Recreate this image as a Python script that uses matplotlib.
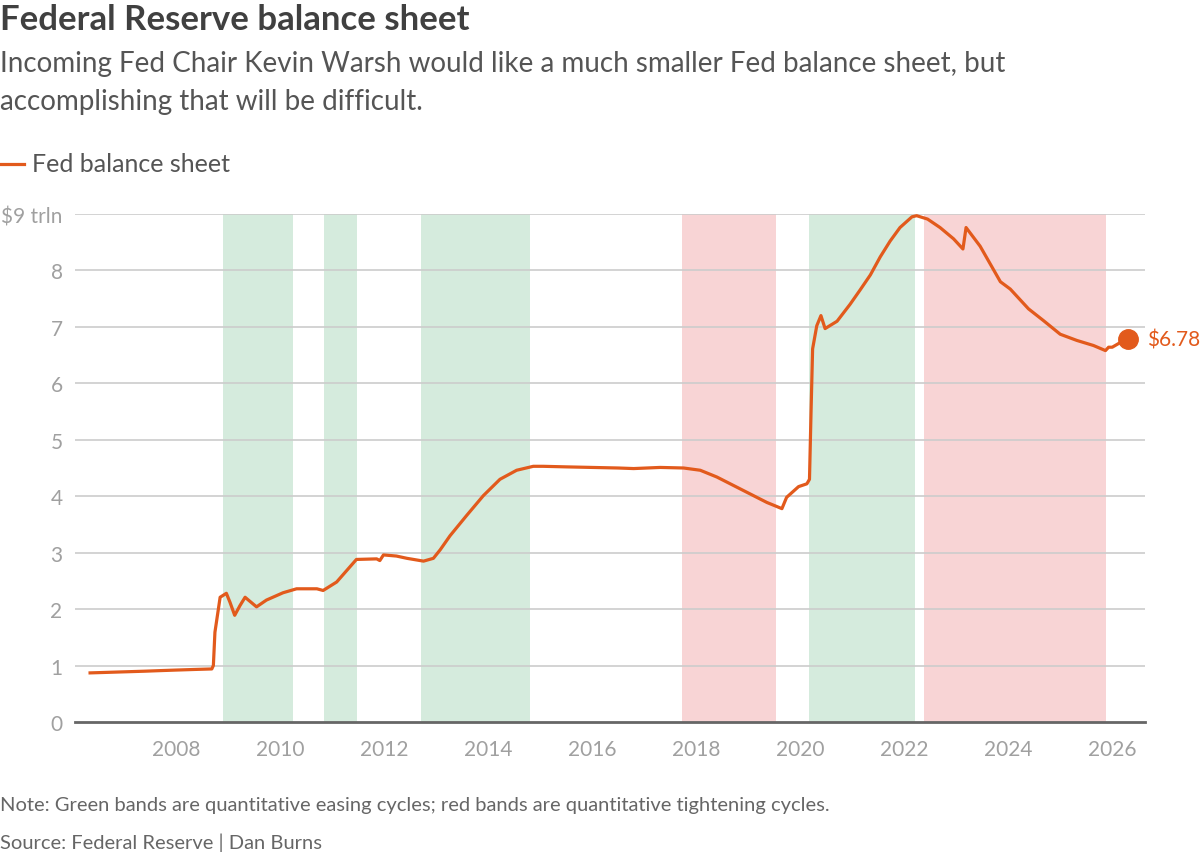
import matplotlib
matplotlib.use("Agg")
import matplotlib.pyplot as plt

plt.rcParams['font.family'] = ['Lato', 'DejaVu Sans']

# Fed balance sheet, trillions of dollars (decimal year, value)
years = [2006.35, 2006.7, 2007.05, 2007.4, 2007.69, 2008.0, 2008.33, 2008.69, 2008.72,
         2008.75, 2008.85, 2008.97, 2009.04, 2009.13, 2009.23, 2009.33, 2009.42, 2009.55,
         2009.74, 2010.06, 2010.32, 2010.71, 2010.83, 2011.09, 2011.47, 2011.86, 2011.92,
         2011.99, 2012.24, 2012.44, 2012.76, 2012.95, 2013.08, 2013.27, 2013.59, 2013.91,
         2014.23, 2014.55, 2014.87, 2015.06, 2015.5, 2016.0, 2016.5, 2016.8, 2017.31,
         2017.76, 2018.08, 2018.40, 2018.72, 2019.04, 2019.36, 2019.65, 2019.74, 2019.97,
         2020.13, 2020.18, 2020.21, 2020.24, 2020.32, 2020.40, 2020.48, 2020.71, 2020.96,
         2021.15, 2021.35, 2021.54, 2021.73, 2021.92, 2022.15, 2022.24, 2022.45, 2022.69,
         2022.95, 2023.13, 2023.19, 2023.46, 2023.85, 2024.04, 2024.39, 2024.68, 2025.0,
         2025.32, 2025.64, 2025.87, 2025.93, 2026.0, 2026.15, 2026.31]
values = [0.87, 0.88, 0.89, 0.90, 0.91, 0.92, 0.93, 0.94, 1.0,
          1.59, 2.21, 2.28, 2.12, 1.89, 2.06, 2.21, 2.14, 2.04,
          2.16, 2.29, 2.36, 2.36, 2.33, 2.48, 2.88, 2.89, 2.86,
          2.96, 2.94, 2.90, 2.85, 2.90, 3.05, 3.30, 3.66, 4.01,
          4.30, 4.46, 4.53, 4.53, 4.52, 4.51, 4.50, 4.49, 4.51,
          4.50, 4.46, 4.34, 4.19, 4.04, 3.89, 3.78, 3.98, 4.17,
          4.22, 4.30, 5.5, 6.61, 7.02, 7.20, 6.97, 7.10, 7.40,
          7.65, 7.92, 8.24, 8.52, 8.76, 8.95, 8.97, 8.91, 8.76,
          8.56, 8.38, 8.76, 8.43, 7.80, 7.67, 7.32, 7.11, 6.87,
          6.76, 6.67, 6.58, 6.64, 6.64, 6.72, 6.78]

qe_bands = [(2008.90, 2010.26), (2010.85, 2011.49), (2012.71, 2014.81), (2020.17, 2022.21)]
qt_bands = [(2017.73, 2019.54), (2022.38, 2025.88)]

yticks = [0, 1, 2, 3, 4, 5, 6, 7, 8, 9]
ytick_labels = ['0', '1', '2', '3', '4', '5', '6', '7', '8', '$9 trln']
xticks = [2008, 2010, 2012, 2014, 2016, 2018, 2020, 2022, 2024, 2026]

LINE = '#E25A1C'
GREEN = '#D5EBDD'
RED = '#F8D4D5'

fig = plt.figure(figsize=(12, 8.54), dpi=100)
ax = fig.add_axes([75/1200, 1 - 723/854, (1145 - 75)/1200, (723 - 215)/854])

for a, b in qe_bands:
    ax.axvspan(a, b, ymin=0, ymax=1, color=GREEN, lw=0, zorder=0)
for a, b in qt_bands:
    ax.axvspan(a, b, ymin=0, ymax=1, color=RED, lw=0, zorder=0)

for y in yticks[1:]:
    ax.axhline(y, color='#cccccc', lw=1.2, zorder=1)

ax.plot(years, values, color=LINE, lw=2.3, zorder=3, clip_on=False, solid_joinstyle='round')
ax.plot([years[-1]], [values[-1]], 'o', color=LINE, ms=14, zorder=4, clip_on=False)
ax.text(years[-1] + 0.35, values[-1], f'${values[-1]:.2f}', color=LINE, fontsize=15,
        va='center', ha='left')

ax.set_xlim(2006.06, 2026.63)
ax.set_ylim(0, 9)
ax.set_yticks(yticks)
ax.set_yticklabels(ytick_labels)
ax.set_xticks(xticks)
ax.set_xticklabels([str(x) for x in xticks])
for s in ['top', 'right', 'left']:
    ax.spines[s].set_visible(False)
ax.spines['bottom'].set_color('#666666')
ax.spines['bottom'].set_linewidth(2)
ax.spines['bottom'].set_zorder(5)
ax.tick_params(axis='both', length=0, labelsize=15, labelcolor='#a0a0a0')
ax.tick_params(axis='y', pad=9)
ax.tick_params(axis='x', pad=12)

fig.text(0.0, 1 - 20/854, 'Federal Reserve balance sheet', fontsize=25, fontweight='bold',
         color='#404040', va='center', ha='left')
fig.text(0.0, 1 - 64/854, 'Incoming Fed Chair Kevin Warsh would like a much smaller Fed balance sheet, but',
         fontsize=20, color='#555555', va='center', ha='left')
fig.text(0.0, 1 - 102/854, 'accomplishing that will be difficult.',
         fontsize=20, color='#555555', va='center', ha='left')

fig.add_artist(plt.Line2D([0, 24/1200], [1 - 165/854, 1 - 165/854], color=LINE, lw=2.3))
fig.text(32/1200, 1 - 164/854, 'Fed balance sheet', fontsize=18, color='#555555',
         va='center', ha='left')

fig.text(0.0, 1 - 806/854,
         'Note: Green bands are quantitative easing cycles; red bands are quantitative tightening cycles.',
         fontsize=14.5, color='#666666', va='center', ha='left')
fig.text(0.0, 1 - 843/854, 'Source: Federal Reserve | Dan Burns',
         fontsize=14.5, color='#666666', va='center', ha='left')

fig.savefig('out.png', dpi=100)
